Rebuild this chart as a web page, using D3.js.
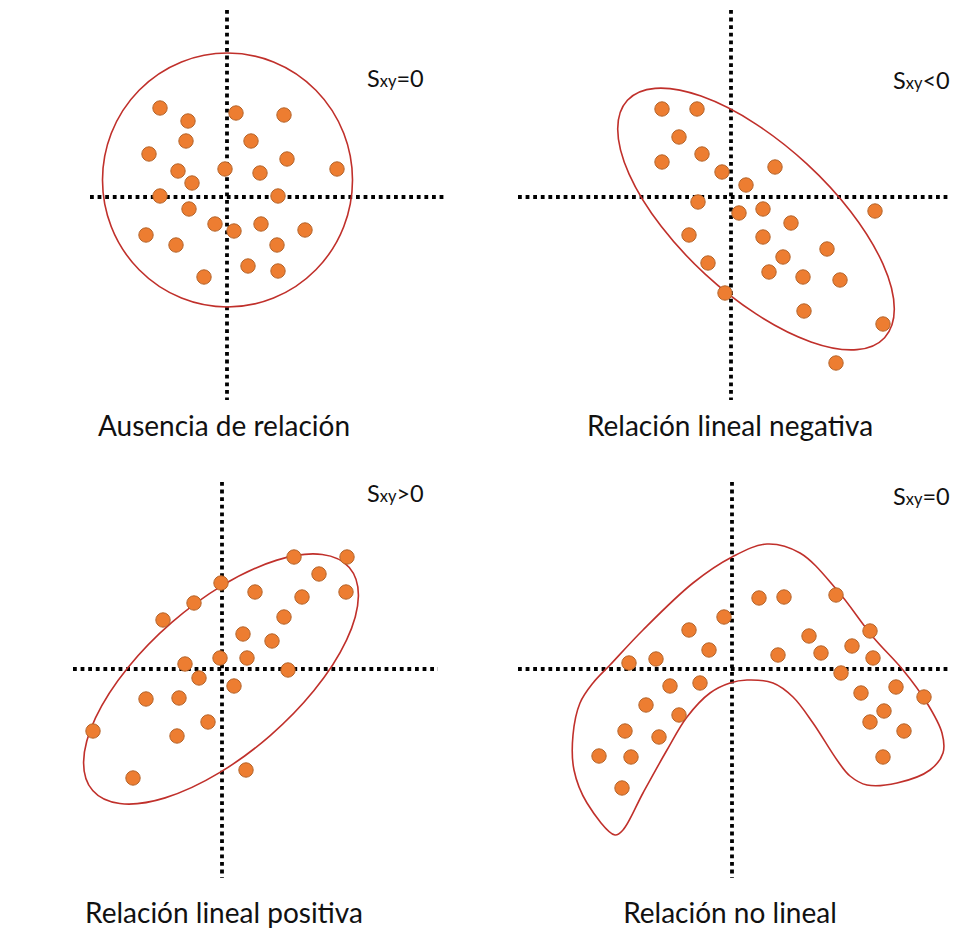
<!DOCTYPE html>
<html>
<head>
<meta charset="utf-8">
<script src="https://cdn.jsdelivr.net/npm/d3@7"></script>
<style>
  html, body { margin: 0; padding: 0; background: #fff; }
  svg { display: block; }
  text { font-family: Lato, "Open Sans", sans-serif; fill: #111; }
</style>
</head>
<body>
<svg id="chart" width="956" height="931"></svg>
<script>
// ---- Data (units relative to each panel's axis crossing) ----
const panelTitles = ["Ausencia de relación", "Relación lineal negativa", "Relación lineal positiva", "Relación no lineal"];
const covLabels = [["S", "xy", "=0"], ["S", "xy", "<0"], ["S", "xy", ">0"], ["S", "xy", "=0"]];

const pointsNone = [
  [-6.7, 8.9], [-3.9, 7.6], [0.9, 8.4], [5.7, 8.2], [-4.1, 5.6], [2.4, 5.6], [-7.8, 4.3],
  [6.0, 3.8], [-4.9, 2.6], [-0.2, 2.8], [3.3, 2.4], [11.0, 2.8], [-3.5, 1.4], [-6.7, 0.1],
  [5.1, 0.1], [-3.8, -1.2], [-1.2, -2.7], [0.7, -3.4], [3.4, -2.7], [7.8, -3.3], [-8.1, -3.8],
  [-5.1, -4.8], [5.0, -4.8], [2.1, -6.9], [5.1, -7.4], [-2.3, -8.0]
];
const pointsNeg = [
  [-6.9, 8.8], [-3.4, 8.8], [-5.2, 6.0], [-2.9, 4.3], [-6.9, 3.5], [-0.9, 2.5], [4.4, 3.0],
  [1.5, 1.2], [-3.3, -0.5], [0.8, -1.6], [3.2, -1.2], [14.4, -1.4], [6.0, -2.6], [-4.2, -3.8],
  [3.2, -4.0], [9.6, -5.2], [-2.3, -6.6], [5.2, -6.0], [3.8, -7.5], [7.2, -8.0], [10.9, -8.3],
  [-0.6, -9.6], [7.3, -11.4], [15.2, -12.7], [10.5, -16.6]
];
const pointsPos = [
  [7.2, 11.2], [12.5, 11.2], [9.7, 9.5], [-0.1, 8.6], [3.3, 7.7], [8.0, 7.2], [12.4, 7.7],
  [-2.8, 6.6], [-5.9, 4.9], [6.2, 5.2], [2.1, 3.5], [5.0, 2.8], [-0.2, 1.1], [2.5, 1.1],
  [-3.7, 0.5], [6.6, -0.1], [-2.3, -0.9], [1.2, -1.7], [-7.6, -3.0], [-4.3, -2.9], [-1.4, -5.3],
  [-12.9, -6.2], [-4.5, -6.7], [2.4, -10.1], [-8.9, -10.9]
];
const pointsNonLinear = [
  [2.7, 7.1], [5.2, 7.2], [10.4, 7.4], [-0.8, 5.2], [-4.3, 3.9], [13.8, 3.8], [7.7, 3.3],
  [-2.3, 1.9], [12.0, 2.3], [8.9, 1.6], [4.6, 1.4], [14.1, 1.1], [-10.3, 0.6], [-7.6, 1.0],
  [10.9, -0.4], [-6.2, -1.7], [-3.2, -1.4], [16.4, -1.8], [19.2, -2.8], [12.9, -2.4], [-8.6, -3.6],
  [15.2, -4.2], [-5.3, -4.6], [13.8, -5.3], [-10.7, -6.2], [17.2, -6.2], [-7.3, -6.8],
  [-13.3, -8.7], [-10.1, -8.8], [15.1, -8.8], [-11.0, -11.9]
];
// enclosing ellipses: [cx, cy, semi-axis a, semi-axis b, angle (deg, data space)]
const ellipses = [
  [0.05, 1.7, 12.5, 12.7, 0],
  [2.5, -2.2, 17.5, 7.5, -42.7],
  [-0.1, -1.0, 17.0, 7.5, 41]
];
const blobOutline = [
  [-11.7, -16.6], [-14.5, -13.4], [-15.8, -10.1], [-15.9, -6.6], [-15.2, -3.4], [-13.9, -1.4],
  [-12.2, 0.4], [-8.9, 3.9], [-3.9, 8.6], [0, 11.2], [3.5, 12.5], [6.8, 11.6], [10.5, 7.9],
  [14.1, 3.2], [17.1, -0.1], [19.5, -3.4], [21.0, -6.4], [21.1, -8.4], [19.8, -10.1],
  [16.5, -11.4], [13.5, -11.6], [11.8, -10.7], [10.5, -9.1], [8.1, -5.4], [6.1, -2.8],
  [4.1, -1.4], [1.5, -1.1], [-0.2, -1.4], [-2.2, -2.4], [-4.5, -4.8], [-6.5, -8.1],
  [-8.9, -12.4], [-10.9, -16.1]
];
// axis extents in data units [xmin, xmax, ymin, ymax]
const axisExtents = [
  [-13.7, 21.8, -20.3, 18.7],
  [-21.3, 21.7, -20.3, 18.7],
  [-14.9, 21.6, -20.9, 18.7],
  [-21.4, 21.8, -20.9, 18.7]
];

const pointSets = [pointsNone, pointsNeg, pointsPos, pointsNonLinear];

// ---- Layout ----
const svg = d3.select("#chart");
const origins = [[227, 197], [731, 197], [222, 669], [732, 669]];
const titlePos = [[224, 436], [730, 436], [224, 923], [730, 923]];
const covPos = [[367, 87], [893, 89], [367, 502], [893, 505]];
const pxPerUnit = 10;

const orange = "#ED7D31", orangeStroke = "#B5642A", red = "#C0302B";

pointSets.forEach((pts, i) => {
  const [ox, oy] = origins[i];
  const x = d3.scaleLinear().domain([0, 1]).range([ox, ox + pxPerUnit]);
  const y = d3.scaleLinear().domain([0, 1]).range([oy, oy - pxPerUnit]);
  const g = svg.append("g");
  const ext = axisExtents[i];

  // dotted axes
  g.append("line")
    .attr("x1", x(ext[0])).attr("x2", x(ext[1]))
    .attr("y1", y(0)).attr("y2", y(0))
    .attr("stroke", "#000").attr("stroke-width", 3.8)
    .attr("stroke-dasharray", "3.8,3.8");
  g.append("line")
    .attr("x1", x(0)).attr("x2", x(0))
    .attr("y1", y(ext[3])).attr("y2", y(ext[2]))
    .attr("stroke", "#000").attr("stroke-width", 3.8)
    .attr("stroke-dasharray", "3.8,3.8");

  // enclosure
  if (i < 3) {
    const [cx, cy, a, b, ang] = ellipses[i];
    g.append("ellipse")
      .attr("cx", x(cx)).attr("cy", y(cy))
      .attr("rx", x(a) - x(0)).attr("ry", y(0) - y(b))
      .attr("transform", `rotate(${-ang},${x(cx)},${y(cy)})`)
      .attr("fill", "none").attr("stroke", red).attr("stroke-width", 1.6);
  } else {
    const line = d3.line().x(d => x(d[0])).y(d => y(d[1])).curve(d3.curveCatmullRomClosed.alpha(0.5));
    g.append("path").attr("d", line(blobOutline))
      .attr("fill", "none").attr("stroke", red).attr("stroke-width", 1.6);
  }

  // points
  g.selectAll("circle.pt").data(pts).join("circle")
    .attr("class", "pt")
    .attr("cx", d => x(d[0])).attr("cy", d => y(d[1]))
    .attr("r", 7.2)
    .attr("fill", orange).attr("stroke", orangeStroke).attr("stroke-width", 1);

  // covariance label
  const t = svg.append("text")
    .attr("x", covPos[i][0]).attr("y", covPos[i][1])
    .attr("font-size", 23.5);
  t.append("tspan").text(covLabels[i][0]);
  t.append("tspan").attr("font-size", 16.5).text(covLabels[i][1]);
  t.append("tspan").text(covLabels[i][2]);

  // title
  svg.append("text")
    .attr("x", titlePos[i][0]).attr("y", titlePos[i][1])
    .attr("text-anchor", "middle")
    .attr("font-size", 28)
    .text(panelTitles[i]);
});
</script>
</body>
</html>
